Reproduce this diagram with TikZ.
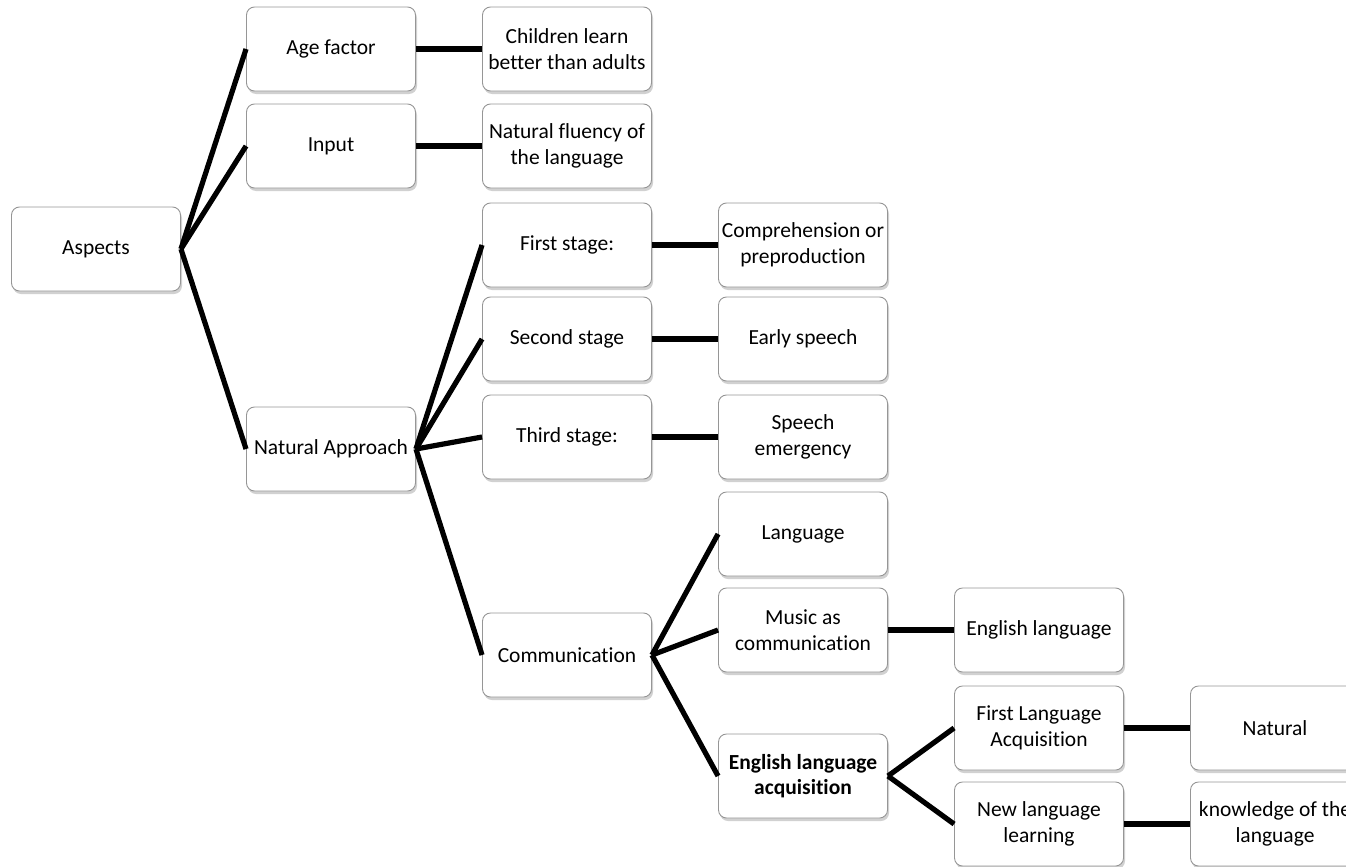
\documentclass[tikz,border=0pt]{standalone}
\usepackage{fontspec}
\setmainfont[Ligatures=NoCommon]{Carlito}
\usetikzlibrary{shadows}
\definecolor{boxline}{RGB}{150,150,150}
\tikzset{
  box/.style={draw=boxline, line width=0.9pt, fill=white, rounded corners=8pt,
    minimum width=169pt, minimum height=84pt, align=center,
    font=\fontsize{21.5}{25.5}\selectfont,
    drop shadow={opacity=0.3, shadow xshift=1.5pt, shadow yshift=-3pt, fill=black!60}},
  link/.style={line width=5.2pt, black}
}
\begin{document}
\begin{tikzpicture}[x=1pt, y=-1pt]
\useasboundingbox (0,0) rectangle (1346,867);
\clip (0,0) rectangle (1346,867);
% level 0
\node[box] (asp) at (96,249) {Aspects};
% level 1
\node[box] (age) at (331,49) {Age factor};
\node[box] (inp) at (331,146) {Input};
\node[box] (nat) at (331,449) {Natural Approach};
% level 2
\node[box] (chi) at (567,49) {Children learn\\better than adults};
\node[box] (flu) at (567,146) {Natural fluency of\\the language};
\node[box] (st1) at (567,245) {First stage:};
\node[box] (st2) at (567,339) {Second stage};
\node[box] (st3) at (567,437) {Third stage:};
\node[box] (com) at (567,655) {Communication};
% level 3
\node[box] (cpr) at (803,245) {Comprehension or\\preproduction};
\node[box] (ear) at (803,339) {Early speech};
\node[box] (spe) at (803,437) {Speech\\emergency};
\node[box] (lan) at (803,534) {Language};
\node[box] (mus) at (803,630) {Music as\\communication};
\node[box] (ela) at (803,776) {\bfseries English language\\\bfseries acquisition};
% level 4
\node[box] (eng) at (1039,630) {English language};
\node[box] (fla) at (1039,728) {First Language\\Acquisition};
\node[box] (nll) at (1039,824) {New language\\learning};
% level 5
\node[box] (ntl) at (1275,728) {Natural};
\node[box] (kno) at (1275,824) {knowledge of the\\language};
% connectors
\foreach \a/\b in {asp/age, asp/inp, asp/nat,
                   age/chi, inp/flu,
                   nat/st1, nat/st2, nat/st3, nat/com,
                   st1/cpr, st2/ear, st3/spe,
                   com/lan, com/mus, com/ela,
                   mus/eng, ela/fla, ela/nll,
                   fla/ntl, nll/kno}
  \draw[link] (\a.east) -- (\b.west);
\end{tikzpicture}
\end{document}
